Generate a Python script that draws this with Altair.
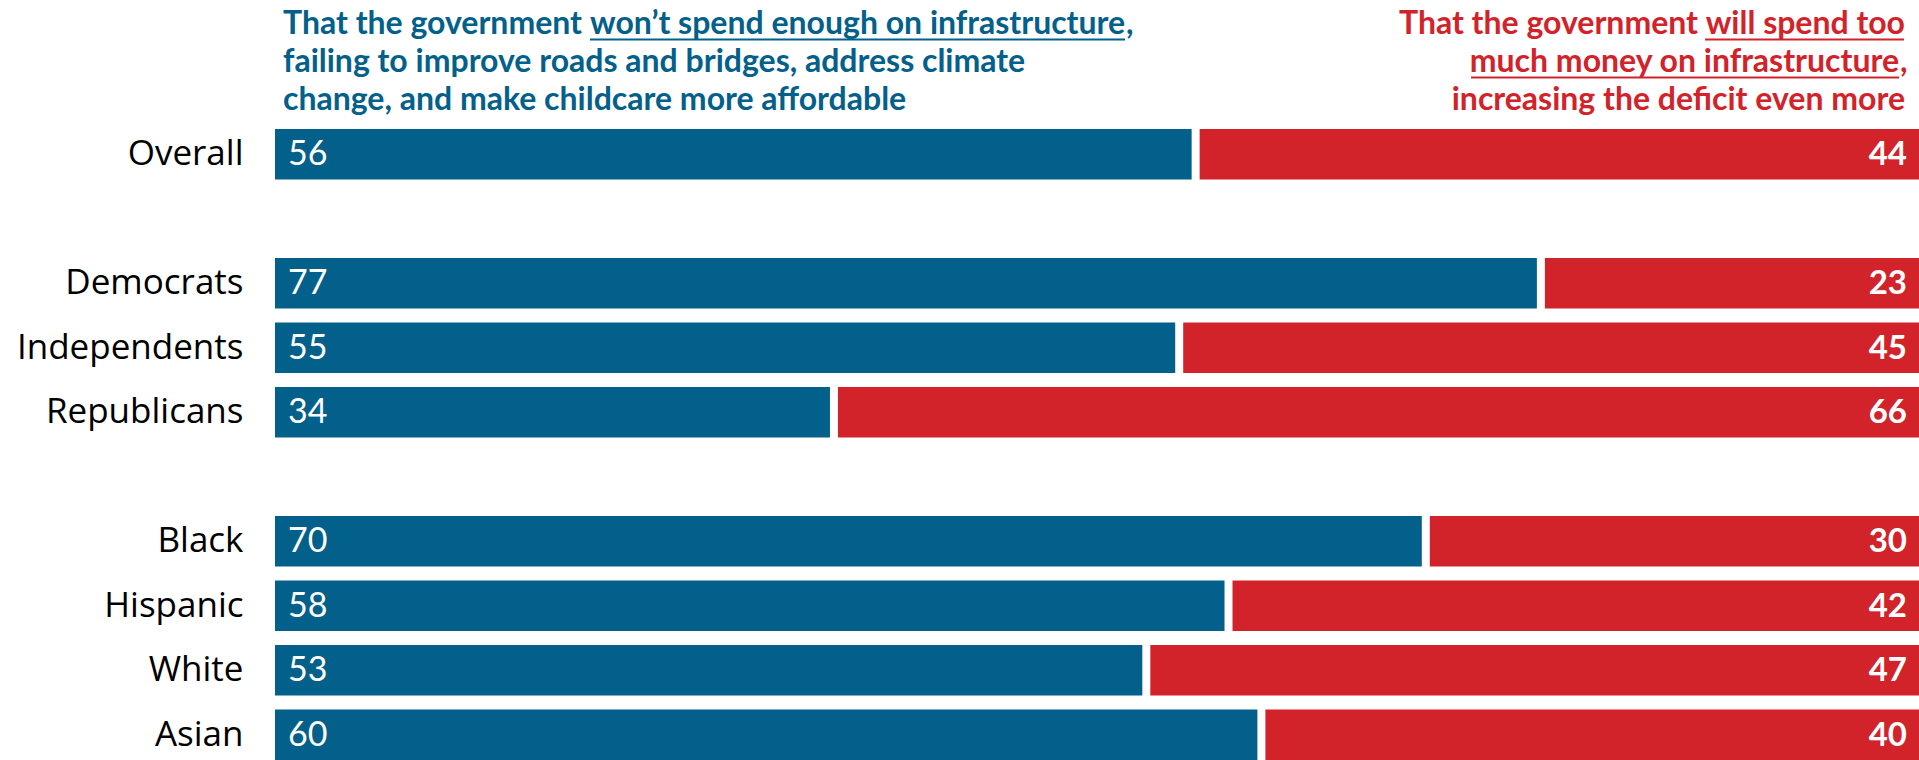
import altair as alt
import pandas as pd

# ---- data ----
groups = ["Overall", "Democrats", "Independents", "Republicans", "Black", "Hispanic", "White", "Asian"]
wont_spend_enough = [56, 77, 55, 34, 70, 58, 53, 60]
will_spend_too_much = [44, 23, 45, 66, 30, 42, 47, 40]
row_order = ["Overall", " ", "Democrats", "Independents", "Republicans", "  ", "Black", "Hispanic", "White", "Asian"]

left_l1_plain = "That the government"
left_l1_under = "won\u2019t spend enough on infrastructure"
left_l2 = "failing to improve roads and bridges, address climate"
left_l3 = "change, and make childcare more affordable"
right_l1_plain = "That the government"
right_l1_under = "will spend too"
right_l2_under = "much money on infrastructure"
right_l3 = "increasing the deficit even more"

BLUE = "#03608B"
RED = "#D2232A"
FONT = "Lato"
LABEL_FONT = "Open Sans"

df = pd.DataFrame({"group": groups, "wont": wont_spend_enough, "will": will_spend_too_much})
one = pd.DataFrame({"k": [0]})

W = 1644
H = 631

y_enc = alt.Y(
    "group:N",
    sort=row_order,
    scale=alt.Scale(domain=row_order, paddingInner=0.217, paddingOuter=0),
    axis=alt.Axis(title=None, ticks=False, domain=False, labelPadding=32,
                  labelFontSize=35, labelFont=LABEL_FONT, labelColor="#000000", labelLimit=400),
)
x_scale = alt.Scale(domain=[0, 100], nice=False, zero=True)

base = alt.Chart(df)

blue = base.mark_bar(color=BLUE, x2Offset=-4).encode(
    x=alt.X("zero:Q", scale=x_scale, axis=None),
    x2="wont:Q",
    y=y_enc,
).transform_calculate(zero="0")

red = base.mark_bar(color=RED, xOffset=4).encode(
    x=alt.X("start:Q", scale=x_scale, axis=None),
    x2="end:Q",
    y=y_enc,
).transform_calculate(start="100 - datum.will", end="100")

blue_lbl = base.mark_text(color="white", font=FONT, fontSize=34, align="left", baseline="middle", dy=1).encode(
    x=alt.value(13), y=y_enc, text="wont:Q"
)
red_lbl = base.mark_text(color="white", font=FONT, fontSize=33, fontWeight="bold", align="right", baseline="middle", dy=1).encode(
    x=alt.value(W - 12), y=y_enc, text="will:Q"
)

hdr = alt.Chart(one)


def htext(txt, color, x, y, align):
    return hdr.mark_text(text=txt, color=color, font=FONT, fontSize=32, fontWeight="bold",
                         align=align, baseline="alphabetic").encode(x=alt.value(x), y=alt.value(y))


def uline(color, x1, x2, y):
    return hdr.mark_rule(color=color, strokeWidth=2).encode(x=alt.value(x1), x2=alt.value(x2), y=alt.value(y))


L1, L2, L3 = -95.5, -57.5, -19.5

layers = [
    blue, red, blue_lbl, red_lbl,
    htext(left_l1_plain, BLUE, 8, L1, "left"),
    htext(left_l1_under, BLUE, 315, L1, "left"),
    htext(",", BLUE, 851, L1, "left"),
    htext(left_l2, BLUE, 8, L2, "left"),
    htext(left_l3, BLUE, 8, L3, "left"),
    uline(BLUE, 315, 850, L1 + 6),
    htext(right_l1_plain, RED, 1423, L1, "right"),
    htext(right_l1_under, RED, 1630, L1, "right"),
    htext(right_l2_under, RED, 1624, L2, "right"),
    htext(",", RED, 1625, L2, "left"),
    htext(right_l3, RED, 1630, L3, "right"),
    uline(RED, 1430, 1629, L1 + 6),
    uline(RED, 1196, 1624, L2 + 6),
]

chart = alt.layer(*layers).properties(
    width=W, height=H,
    autosize=alt.AutoSizeParams(type="none"),
    padding={"left": 275, "top": 129, "right": 0, "bottom": 0},
    background="white",
).configure_view(stroke=None)

chart.save("out.html", embed_options={"renderer": "svg", "actions": False})
